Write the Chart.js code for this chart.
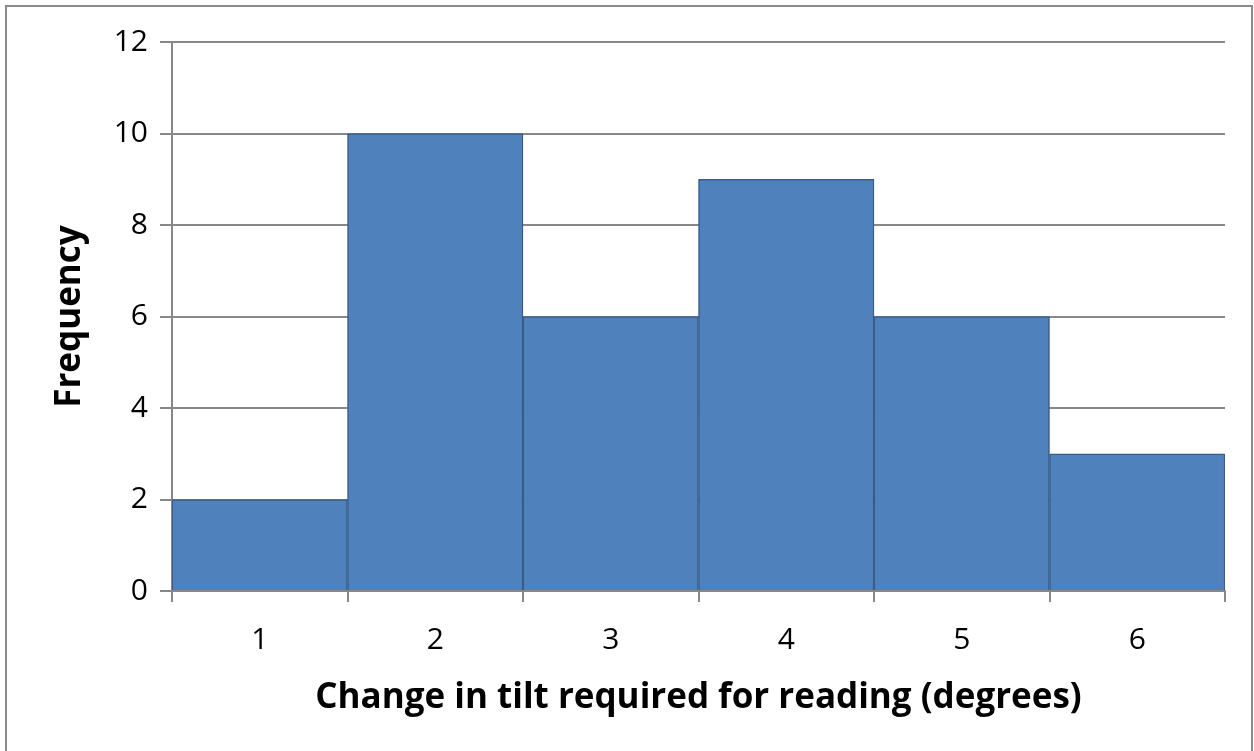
<!DOCTYPE html>
<html>
<head>
<meta charset="utf-8">
<script src="https://cdn.jsdelivr.net/npm/chart.js@4/dist/chart.umd.min.js"></script>
<style>
  html, body { margin: 0; padding: 0; background: #ffffff; }
  #wrap { width: 1254px; height: 751px; position: relative; }
</style>
</head>
<body>
<div id="wrap"><canvas id="c" width="1254" height="751"></canvas></div>
<script>
// Histogram bins and their counts
const categories = ['1', '2', '3', '4', '5', '6'];
const frequencies = [2, 10, 6, 9, 6, 3];
const yTicks = [0, 2, 4, 6, 8, 10, 12];

const xTitle = 'Change in tilt required for reading (degrees)';
const yTitle = 'Frequency';

const FONT = '"Open Sans", "Liberation Sans", sans-serif';
const GRID = '#888888';

// Thin frame around the whole figure
const framePlugin = {
  id: 'frame',
  afterDraw(chart) {
    const ctx = chart.ctx;
    ctx.save();
    ctx.strokeStyle = '#8a8a8a';
    ctx.lineWidth = 2;
    ctx.strokeRect(6, 6, 1246, 760);
    ctx.restore();
  }
};

new Chart(document.getElementById('c'), {
  type: 'bar',
  data: {
    labels: categories,
    datasets: [{
      data: frequencies,
      backgroundColor: '#4f81bd',
      borderColor: '#385d8a',
      borderWidth: 1.5,
      categoryPercentage: 1.0,
      barPercentage: 1.0
    }]
  },
  plugins: [framePlugin],
  options: {
    responsive: false,
    animation: false,
    devicePixelRatio: 1,
    layout: { padding: { top: 42, right: 29, left: 0, bottom: 0 } },
    plugins: {
      legend: { display: false },
      tooltip: { enabled: false }
    },
    scales: {
      x: {
        grid: {
          offset: true,
          drawOnChartArea: false,
          drawTicks: true,
          tickLength: 11,
          color: GRID,
          lineWidth: 2
        },
        border: { display: true, color: GRID, width: 2 },
        ticks: {
          color: '#000000',
          font: { family: FONT, size: 30 },
          padding: 20
        },
        title: {
          display: true,
          text: xTitle,
          color: '#000000',
          font: { family: FONT, size: 35, weight: 'bold' },
          padding: { top: 0, bottom: 32 }
        },
        afterFit(scale) { scale.height = 160; }
      },
      y: {
        min: 0,
        max: 12,
        afterBuildTicks(scale) { scale.ticks = yTicks.map(v => ({ value: v })); },
        grid: {
          color: GRID,
          lineWidth: 2,
          drawTicks: true,
          tickLength: 12
        },
        border: { display: true, color: GRID, width: 2 },
        ticks: {
          color: '#000000',
          font: { family: FONT, size: 30 },
          padding: 12
        },
        title: {
          display: true,
          text: yTitle,
          color: '#000000',
          font: { family: FONT, size: 35, weight: 'bold' },
          padding: { top: 49, bottom: 0 }
        },
        afterFit(scale) { scale.width = 172; }
      }
    }
  }
});
</script>
</body>
</html>
